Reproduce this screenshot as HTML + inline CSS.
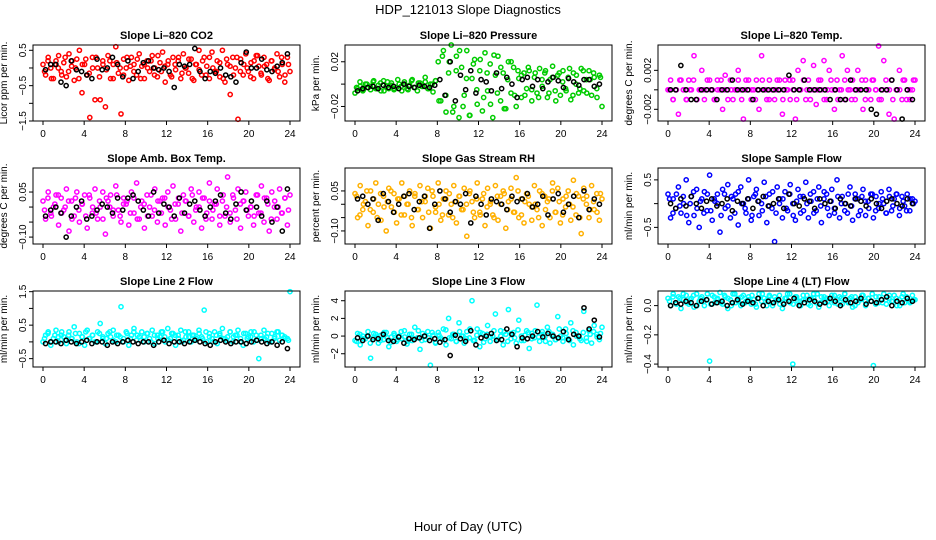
<!DOCTYPE html>
<html><head><meta charset="utf-8"><style>
html,body{margin:0;padding:0;background:#fff;}
svg{display:block;font-family:"Liberation Sans",sans-serif;}
</style></head><body>
<svg id="chart" width="936" height="540" viewBox="0 0 936 540" xmlns="http://www.w3.org/2000/svg">
<text x="468" y="14" text-anchor="middle" font-size="13">HDP_121013  Slope Diagnostics</text>
<text x="468" y="531" text-anchor="middle" font-size="13">Hour of Day (UTC)</text>
</svg>
<script>
const co2Color=[0.1,-0.2,0.3,0.0,-0.3,0.2,0.35,-0.1,0.15,-0.25,0.4,0.05,-0.35,0.25,0.5,-0.7,0.1,-0.2,-1.4,0.3,-0.9,0.0,-0.9,0.2,-1.1,0.35,-0.3,0.1,0.6,-0.15,-1.3,0.25,0.0,-0.35,0.3,0.1,-0.2,0.4,0.05,-0.3,0.2,-0.1,0.35,0.0,-0.25,0.15,0.45,-0.4,0.1,-0.2,0.3,-0.05,0.2,-0.3,0.4,0.0,-0.15,0.25,-0.35,0.1,0.5,-0.2,0.3,0.05,-0.3,0.45,-0.1,0.2,-0.25,0.5,-0.4,0.1,-0.75,0.3,0.0,-1.45,0.25,-0.2,0.4,-0.1,0.15,-0.3,0.35,0.05,-0.2,0.3,0.1,-0.35,0.2,-0.05,0.4,-0.25,0.1,-0.4,0.3,-0.1];
const co2ColorB=[-0.1,0.2,-0.3,0.1,0.0,-0.2,0.3,-0.1,0.2,0.0,-0.3,0.1,0.25,-0.15,0.0,0.3,-0.25,0.1,-0.05,0.2,-0.3,0.15,0.0,-0.2,0.3,0.05,-0.1,0.25,-0.3,0.1,0.0,0.2,-0.2,0.35,-0.1,0.05,0.2,-0.25,0.1,0.3,-0.15,0.0,0.25,-0.3,0.1,-0.05,0.2,-0.2,0.3,0.0,-0.1,0.15,-0.3,0.25,0.05,-0.2,0.3,-0.1,0.1,0.0,-0.25,0.2,0.35,-0.15,0.05,-0.3,0.2,0.0,-0.1,0.3,-0.2,0.1];
const co2Black=[-0.05,0.1,0.1,-0.4,-0.5,0.2,-0.05,-0.1,-0.2,-0.3,0.25,-0.05,0.0,0.3,0.1,-0.25,0.2,-0.3,-0.1,0.15,0.2,0.0,-0.05,0.0,-0.1,-0.55,0.1,0.05,0.1,0.55,-0.1,-0.3,-0.1,-0.15,0.0,-0.2,-0.25,-0.4,0.15,0.45,0.0,0.0,0.25,-0.05,-0.1,0.05,0.15,0.4];
const presColor=[-0.008,-0.004,-0.002,-0.006,0.0,-0.003,-0.005,0.002,-0.004,-0.001,-0.006,0.003,-0.002,-0.004,0.001,-0.005,-0.003,0.0,-0.006,0.002,-0.004,-0.001,0.004,-0.003,-0.006,0.001,-0.002,0.006,-0.004,0.0,-0.007,0.003,0.02,-0.015,0.03,-0.025,0.01,0.035,-0.02,0.025,-0.03,0.015,-0.01,0.03,-0.028,0.005,0.022,-0.018,0.012,-0.024,0.028,-0.006,0.018,-0.03,0.008,0.025,-0.015,0.01,-0.022,0.02,-0.008,0.015,-0.02,0.005,-0.012,0.01,-0.004,0.012,-0.015,0.006,-0.008,0.014,-0.002,0.01,-0.012,0.004,0.016,-0.006,0.008,-0.01,0.012,-0.004,0.006,-0.014,0.01,0.0,-0.008,0.014,-0.006,0.004,0.012,-0.01,0.006,-0.004,0.008,-0.02];
const presColorB=[-0.003,0.002,-0.005,0.0,-0.002,0.003,-0.004,0.001,-0.006,0.002,-0.001,-0.004,0.004,-0.002,0.0,-0.005,0.003,-0.003,0.001,-0.002,0.002,-0.004,0.0,0.003,-0.015,0.025,-0.01,0.02,-0.025,0.012,0.03,-0.02,0.005,-0.028,0.018,-0.005,0.022,-0.012,0.01,-0.018,0.026,-0.008,0.015,-0.022,0.004,0.02,-0.01,0.012,0.008,-0.01,0.015,-0.005,0.01,-0.012,0.004,0.012,-0.008,0.006,-0.015,0.01,0.002,-0.006,0.014,-0.01,0.008,-0.004,0.012,-0.008,0.004,0.01,-0.012,0.006];
const presBlack=[-0.006,-0.004,-0.003,-0.002,-0.004,-0.001,-0.003,-0.002,-0.004,0.0,-0.002,-0.003,-0.001,-0.002,-0.003,-0.001,0.004,-0.01,0.02,-0.015,0.008,-0.005,0.012,-0.008,0.004,0.002,-0.006,0.01,-0.004,0.006,0.0,-0.012,0.004,0.006,-0.002,0.004,-0.004,0.002,0.006,0.003,-0.003,0.005,0.002,-0.001,0.004,0.004,-0.002,0.0];
const tempColor=[0,0.001,-0.001,0,-0.0025,0.001,0,-0.001,0.001,0,0.0035,-0.001,0,0.002,-0.001,0,0.001,0,-0.001,0.001,0,-0.002,0.0015,0,0.001,-0.001,0,0.002,0,-0.003,0.001,0,-0.001,0,0.001,-0.002,0.0035,0,-0.001,0.001,0,-0.001,0.001,0,-0.0025,0.001,0,-0.001,0.001,-0.003,0.002,0,0.003,-0.001,0.001,0,0.0025,-0.0015,0.001,0,0.003,-0.001,0.002,0,-0.002,0.001,0,0.0035,-0.001,0.002,0,0.001,-0.001,0.002,0,-0.002,0.001,0,-0.001,0.001,0,0.0045,-0.001,0.003,0,-0.0025,0.001,-0.003,0,0.002,-0.001,0.001,0,-0.001,0,0.001];
const tempColorB=[0,-0.001,0,0.001,0,-0.001,0,0.001,-0.001,0,0,0.001,0,-0.001,0,0.001,0,-0.001,0,0,0.001,-0.001,0,0.001,0,-0.001,0,0.001,0,-0.001,0,0,0.001,-0.001,0,0.001,0,-0.001,0,0.001,0,-0.001,0,0,0.001,-0.001,0,0.001,0,-0.001,0,0.001,0,-0.001,0,0,0.001,-0.001,0,0.001,0,-0.001,0,0.001,0,-0.001,0,0,0.001,-0.001,0,0.001];
const tempBlack=[0,0,0.0025,0,-0.001,-0.001,0,0,0,-0.001,0,0,0.001,0,0,0,-0.001,0,0,0,0,0,0,0.0015,0,0,0.001,0,0,0,0,-0.001,0,-0.001,-0.001,0.001,0,0,0,-0.002,-0.0025,0,0,0.001,0,-0.003,0,-0.001];
const boxColor=[0.02,-0.04,0.05,-0.02,0.0,0.04,-0.06,0.03,-0.01,0.06,-0.08,0.02,-0.03,0.05,-0.05,0.01,0.04,-0.07,0.03,-0.02,0.06,-0.04,0.0,0.05,-0.09,0.02,0.04,-0.03,0.07,-0.01,-0.05,0.03,0.01,-0.06,0.05,-0.02,0.08,-0.04,0.02,-0.07,0.04,0.0,-0.03,0.06,-0.05,0.02,0.03,-0.06,0.05,-0.01,0.07,-0.04,0.01,-0.08,0.04,0.02,-0.03,0.06,-0.05,0.0,0.05,-0.07,0.03,-0.02,0.08,-0.04,0.01,0.06,-0.06,0.02,-0.03,0.1,-0.05,0.04,-0.01,0.06,-0.07,0.02,0.05,-0.03,0.0,-0.06,0.04,-0.02,0.07,-0.05,0.03,-0.08,0.05,0.0,-0.04,0.06,-0.02,0.03,-0.06,0.04];
const boxColorB=[-0.01,0.03,-0.03,0.01,0.04,-0.02,0.0,0.02,-0.04,0.03,-0.01,0.01,-0.03,0.04,0.0,-0.02,0.02,-0.04,0.03,0.0,-0.01,0.04,-0.03,0.01,0.02,-0.02,0.03,-0.04,0.0,0.01,-0.03,0.04,-0.01,0.02,-0.02,0.03,0.0,-0.04,0.01,0.03,-0.02,0.02,-0.03,0.04,-0.01,0.0,0.03,-0.04,0.02,-0.01,0.01,-0.03,0.04,0.0,-0.02,0.03,-0.04,0.01,0.02,-0.01,0.0,-0.03,0.04,-0.02,0.03,0.01,-0.04,0.02,0.0,-0.02,0.03,-0.01];
const boxBlack=[-0.03,-0.01,0.0,-0.02,-0.1,-0.03,0.0,0.02,-0.04,-0.03,-0.01,0.01,0.0,-0.02,0.03,-0.01,0.03,0.04,0.02,-0.01,-0.03,0.05,-0.02,0.01,0.0,-0.03,0.03,-0.02,0.01,0.02,-0.01,-0.03,0.0,0.02,0.04,-0.02,-0.04,0.01,0.05,-0.01,0.02,0.0,-0.03,0.02,-0.05,0.0,-0.08,0.06];
const rhColor=[0.04,-0.05,0.07,-0.02,0.01,-0.08,0.05,-0.03,0.08,0.0,-0.06,0.03,-0.1,0.06,-0.01,0.04,-0.07,0.02,0.08,-0.04,0.0,0.05,-0.08,0.03,-0.02,0.07,-0.05,0.01,0.06,-0.09,0.03,-0.03,0.08,-0.06,0.02,0.05,-0.04,0.0,0.07,-0.07,0.03,-0.02,0.06,-0.12,0.04,0.01,-0.05,0.08,-0.03,0.02,-0.08,0.06,0.0,-0.04,0.07,-0.06,0.03,0.05,-0.09,0.01,0.06,-0.03,0.1,-0.05,0.02,-0.07,0.04,0.0,-0.06,0.07,-0.02,0.05,-0.08,0.03,0.01,-0.05,0.08,-0.03,0.06,-0.07,0.02,-0.01,0.05,-0.06,0.09,-0.04,0.03,-0.11,0.06,0.0,-0.05,0.07,-0.02,0.04,-0.06,0.02];
const rhColorB=[0.03,-0.04,0.0,0.05,-0.02,0.02,-0.05,0.04,-0.01,0.01,0.05,-0.03,0.02,-0.04,0.03,0.0,-0.05,0.04,-0.02,0.01,0.03,-0.03,0.05,-0.01,0.0,-0.04,0.02,0.04,-0.05,0.01,0.03,-0.02,0.0,0.05,-0.03,0.02,-0.04,0.04,-0.01,0.01,-0.05,0.03,0.0,0.04,-0.02,0.02,-0.03,0.05,-0.04,0.01,0.03,-0.01,0.0,-0.05,0.04,-0.02,0.02,0.05,-0.03,0.01,-0.04,0.03,0.0,-0.01,0.04,-0.05,0.02,0.03,-0.02,0.01,-0.03,0.04];
const rhBlack=[0.02,0.03,0.0,0.02,-0.06,0.04,0.01,-0.03,0.0,0.03,0.04,-0.02,0.01,0.03,-0.09,0.0,0.05,0.02,-0.03,0.01,0.0,0.04,-0.07,0.03,0.0,-0.04,0.02,0.01,0.0,-0.02,0.03,0.01,0.02,0.04,-0.01,0.0,0.03,-0.04,0.02,0.04,-0.03,0.0,0.03,-0.05,0.05,-0.02,0.02,0.0];
const flowColor=[0.2,-0.3,0.1,-0.1,0.35,-0.2,0.0,0.5,-0.4,0.15,-0.25,0.3,-0.5,0.1,0.25,-0.15,0.6,-0.35,0.05,0.2,-0.6,0.3,-0.1,0.4,-0.3,0.1,0.2,-0.45,0.35,0.0,-0.2,0.5,-0.35,0.15,0.3,-0.25,0.0,0.45,-0.4,0.2,-0.1,-0.8,0.35,0.1,-0.3,0.25,-0.15,0.4,0.0,-0.35,0.3,-0.2,0.15,0.45,-0.3,0.05,0.25,-0.15,0.35,-0.4,0.1,0.2,-0.25,0.3,-0.1,0.5,-0.3,0.15,0.0,-0.2,0.35,-0.35,0.2,0.1,-0.15,0.3,-0.25,0.05,0.2,-0.3,0.15,-0.1,0.25,0.0,-0.2,0.3,-0.15,0.1,0.2,-0.25,0.15,-0.05,0.2,-0.15,0.1,0.05];
const flowColorB=[0.1,-0.2,0.2,-0.05,0.15,-0.25,0.0,0.25,-0.1,0.05,-0.2,0.2,-0.15,0.1,0.0,-0.25,0.2,-0.05,0.15,-0.2,0.25,0.0,-0.1,0.1,-0.25,0.2,0.05,-0.15,0.15,-0.05,0.25,-0.2,0.0,0.1,-0.1,0.2,-0.25,0.05,0.15,-0.15,0.0,0.2,-0.2,0.1,-0.05,0.25,-0.1,0.05,-0.2,0.15,0.0,-0.15,0.2,-0.05,0.1,-0.25,0.15,0.05,-0.1,0.2,-0.15,0.0,0.1,-0.2,0.15,-0.05,0.2,-0.1,0.05,-0.15,0.1,0.0];
const flowBlack=[0.0,-0.1,0.1,-0.05,0.15,0.0,-0.1,0.05,0.1,-0.05,0.0,0.1,-0.15,0.05,0.0,0.1,-0.1,0.05,0.15,-0.05,0.0,0.1,-0.1,0.2,0.0,-0.05,0.1,0.05,-0.1,0.1,0.0,0.05,-0.1,0.1,0.0,-0.05,0.1,0.05,-0.05,0.1,0.0,-0.1,0.05,0.1,0.0,-0.05,0.1,0.0];
const line2Color=[0.0,0.2,0.3,-0.1,0.1,0.35,0.0,0.2,0.15,-0.05,0.3,0.1,0.45,0.0,0.25,0.15,-0.1,0.35,0.1,0.2,0.0,0.3,0.55,0.1,-0.05,0.25,0.15,0.35,0.0,0.2,1.05,0.1,0.3,-0.1,0.2,0.4,0.05,0.15,0.3,0.0,0.25,0.1,0.35,-0.05,0.2,0.15,0.3,0.0,0.4,0.1,0.25,-0.1,0.2,0.35,0.05,0.15,0.3,0.0,0.2,0.1,0.35,0.15,0.95,0.0,0.25,0.1,0.3,-0.05,0.2,0.4,0.1,0.15,0.3,0.0,0.2,0.35,0.1,-0.1,0.25,0.15,0.3,0.0,0.2,-0.5,0.1,0.35,0.15,0.0,0.25,0.1,0.3,0.05,0.2,0.15,0.1,1.5];
const line2ColorB=[0.1,0.25,0.0,0.2,0.15,0.3,0.05,0.2,0.1,0.25,-0.05,0.15,0.3,0.1,0.2,0.0,0.25,0.15,0.1,0.3,0.05,0.2,0.15,0.0,0.25,0.1,0.3,0.2,0.05,0.15,0.25,0.0,0.2,0.1,0.3,0.15,0.05,0.25,0.2,0.1,0.0,0.3,0.15,0.2,0.05,0.25,0.1,0.3,0.15,0.0,0.2,0.25,0.1,0.05,0.3,0.15,0.2,0.0,0.25,0.1,0.15,0.3,0.05,0.2,0.1,0.25,0.0,0.15,0.3,0.2,0.1,0.05];
const line2Black=[-0.05,0.0,0.0,-0.05,0.05,0.0,-0.05,0.0,0.05,-0.05,0.0,0.0,-0.1,0.0,-0.05,0.0,0.05,0.0,-0.05,0.0,0.0,-0.1,0.0,0.05,-0.05,0.0,0.0,-0.05,0.0,0.05,0.0,-0.05,-0.1,0.0,0.05,0.0,-0.05,0.0,0.0,-0.05,0.0,0.05,0.0,-0.05,0.0,-0.1,0.0,-0.2];
const line3Color=[-0.5,0.3,-1.0,0.0,-0.3,0.5,-2.5,-0.2,0.2,-0.8,0.1,-0.4,0.4,-1.2,-0.1,0.3,-0.6,0.0,-0.3,0.6,-0.9,0.2,-0.5,1.0,-0.2,-1.5,0.3,-0.4,0.5,-3.3,0.1,-0.7,0.4,-0.2,0.8,-1.0,2.0,-0.3,0.2,-0.6,1.5,0.0,-0.8,0.5,-0.2,4.0,-0.5,0.8,-1.2,0.3,-0.3,1.2,-0.6,0.0,2.5,-0.4,0.6,-1.0,0.2,3.0,-0.3,0.4,-0.8,1.8,0.0,-0.5,0.6,-1.4,0.3,-0.2,3.5,-0.6,0.5,-0.1,1.0,-0.8,0.2,-0.4,2.2,0.0,-0.6,0.8,-0.3,1.5,-1.0,0.4,0.0,-0.5,2.8,-0.2,0.6,-0.8,1.2,0.2,-0.4,1.0];
const line3ColorB=[-0.6,0.2,-0.3,0.0,-0.8,0.3,-0.1,-0.5,0.4,-0.2,-0.7,0.1,-0.4,0.5,-0.1,-0.6,0.2,-0.3,0.6,-0.5,0.0,-0.2,0.4,-0.8,0.1,-0.4,0.7,-0.2,0.2,-0.6,0.5,0.0,-0.3,0.8,-0.5,0.1,0.4,-0.7,0.2,-0.1,0.6,-0.4,0.0,0.5,-0.6,0.3,-0.2,0.7,-0.5,0.1,0.4,-0.3,0.6,-0.1,0.2,-0.6,0.5,0.0,-0.4,0.8,-0.2,0.3,-0.5,0.6,0.0,-0.3,0.4,-0.6,0.2,0.5,-0.1,0.3];
const line3Black=[-0.2,-0.5,0.0,-0.4,-0.3,0.2,-0.5,-0.6,-0.1,-0.8,-0.3,-0.4,-0.2,0.0,-0.5,-0.3,-0.7,-0.4,-2.2,0.1,-0.3,-0.6,0.6,-1.0,-0.2,0.0,0.3,-0.5,-0.4,0.8,0.2,-1.2,-0.2,-0.3,0.0,0.5,-0.1,0.3,0.0,-0.2,0.5,-0.4,0.2,0.0,3.2,0.8,1.8,-0.1];
const line4Color=[0.05,0.0,0.08,0.02,0.06,-0.02,0.04,0.07,0.01,0.05,-0.01,0.08,0.03,0.06,0.0,0.04,-0.38,0.07,0.02,0.05,0.09,0.01,0.06,-0.02,0.04,0.08,0.02,0.05,0.0,0.07,0.03,0.06,0.01,0.04,-0.01,0.08,0.03,0.05,0.0,0.07,0.02,0.06,0.04,0.01,-0.02,0.05,0.08,0.02,-0.4,0.06,0.03,0.0,0.07,0.04,0.01,0.05,0.08,0.02,-0.01,0.06,0.03,0.05,0.0,0.07,0.02,0.04,0.06,0.01,0.08,0.03,0.05,-0.01,0.06,0.02,0.04,0.07,0.0,0.05,0.03,-0.41,0.06,0.02,0.04,0.08,0.01,0.05,0.03,0.07,0.0,0.04,0.06,0.02,0.05,0.03,0.07,0.04];
const line4ColorB=[0.03,0.06,0.01,0.05,0.08,0.02,0.04,0.07,0.0,0.05,0.03,0.08,0.01,0.06,0.04,0.02,0.07,0.05,0.0,0.08,0.03,0.06,0.02,0.04,0.07,0.01,0.05,0.08,0.03,0.06,0.0,0.04,0.07,0.02,0.05,0.08,0.01,0.06,0.03,0.04,0.07,0.0,0.05,0.08,0.02,0.06,0.03,0.04,0.07,0.01,0.05,0.08,0.02,0.06,0.0,0.04,0.07,0.03,0.05,0.08,0.01,0.06,0.02,0.04,0.07,0.03,0.05,0.0,0.08,0.06,0.02,0.04];
const line4Black=[0.0,0.02,0.01,0.03,0.02,0.0,0.03,0.04,0.01,0.02,0.03,0.0,0.02,0.04,0.01,0.03,0.02,0.05,0.0,0.03,0.02,0.04,0.01,0.03,0.05,0.0,0.02,0.04,0.03,0.01,0.02,0.05,0.03,0.0,0.04,0.02,0.03,0.05,0.01,0.03,0.02,0.04,0.06,0.0,0.03,0.02,0.05,0.03];
const xTicks=[0,4,8,12,16,20,24];
const panelTitles=["Slope Li\u2013820 CO2","Slope Li\u2013820 Pressure","Slope Li\u2013820 Temp.","Slope Amb. Box Temp.","Slope Gas Stream RH","Slope Sample Flow","Slope Line 2 Flow","Slope Line 3 Flow","Slope Line 4 (LT) Flow"];
const yTitles=["Licor ppm per min.","kPa per min.","degrees C per min.","degrees C per min.","percent per min.","ml/min per min.","ml/min per min.","ml/min per min.","ml/min per min."];
const yTickVals=[[0.5,0,-0.5,-1,-1.5],[0.02,0,-0.02],[0.002,0,-0.002],[0.05,0,-0.05,-0.1],[0.05,0,-0.05,-0.1],[0.5,0,-0.5],[1.5,1,0.5,0,-0.5],[4,2,0,-2],[0,-0.2,-0.4]];
const yTickLabels=[["0.5","","\u22120.5","","\u22121.5"],["0.02","","\u22120.02"],["0.002","","\u22120.002"],["0.05","","","\u22120.10"],["0.05","","","\u22120.10"],["0.5","","\u22120.5"],["1.5","","0.5","","\u22120.5"],["4","2","0","\u22122"],["0.0","\u22120.2","\u22120.4"]];
const yRanges=[[-1.5,0.65],[-0.033,0.035],[-0.0032,0.0046],[-0.123,0.13],[-0.149,0.136],[-0.85,0.75],[-0.75,1.52],[-3.5,5.1],[-0.42,0.1]];
const colorSeries=[co2Color,presColor,tempColor,boxColor,rhColor,flowColor,line2Color,line3Color,line4Color];
const colorSeriesB=[co2ColorB,presColorB,tempColorB,boxColorB,rhColorB,flowColorB,line2ColorB,line3ColorB,line4ColorB];
const blackSeries=[co2Black,presBlack,tempBlack,boxBlack,rhBlack,flowBlack,line2Black,line3Black,line4Black];
const colors=["#ff0000","#00cc00","#ff00ff","#ff00ff","#ffb000","#0000ff","#00ffff","#00ffff","#00ffff"];
const names=["co2","pressure","li820-temp","box-temp","rh","sample-flow","line2-flow","line3-flow","line4-flow"];
const NS="http://www.w3.org/2000/svg";
const svg=document.getElementById('chart');
const lefts=[33,345,658],tops=[45,168,291],W=267,H=76;
function mk(tag,attrs,parent){const e=document.createElementNS(NS,tag);for(const k in attrs)e.setAttribute(k,attrs[k]);parent.appendChild(e);return e;}
for(let p=0;p<9;p++){
  const L=lefts[p%3],T=tops[Math.floor(p/3)];
  const g=mk('g',{},svg);
  
  
  const xs=v=>L+10+v*(W-20)/24;
  const [y0,y1]=yRanges[p];
  const ys=v=>T+H-(v-y0)/(y1-y0)*H;
  const t=mk('text',{x:L+W/2,y:T-6,'text-anchor':'middle','font-size':'11','font-weight':'bold'},g);
  t.textContent=panelTitles[p];
  
  
  const yt=mk('text',{transform:`translate(${L-26},${T+H/2}) rotate(-90)`,'text-anchor':'middle','font-size':'10'},g);
  yt.textContent=yTitles[p];
  
  
  const pts=mk('g',{fill:'none','stroke-width':'1.5'},g);
  
  
  const cs=colorSeries[p];
  cs.forEach((v,i)=>{const c=mk('circle',{cx:xs(i*24/(cs.length-1)),cy:ys(v),r:2.1,stroke:colors[p]},pts);
    
    });
  const cb=colorSeriesB[p];
  cb.forEach((v,i)=>{const c=mk('circle',{cx:xs(0.15+i*23.7/(cb.length-1)),cy:ys(v),r:2.1,stroke:colors[p]},pts);
    
    });
  const bs=blackSeries[p];
  bs.forEach((v,i)=>{const c=mk('circle',{cx:xs(0.25+i*23.5/(bs.length-1)),cy:ys(v),r:2.1,stroke:'#000'},pts);
    
    });
  const box=mk('rect',{x:L,y:T,width:W,height:H,fill:'none',stroke:'#000','stroke-width':'1'},g);
  
  
  const xa=mk('g',{stroke:'#000'},g);
  
  
  mk('line',{x1:xs(0),x2:xs(24),y1:T+H,y2:T+H},xa);
  xTicks.forEach(v=>{mk('line',{x1:xs(v),x2:xs(v),y1:T+H,y2:T+H+4},xa);
    const l=mk('text',{x:xs(v),y:T+H+16,'text-anchor':'middle','font-size':'10',stroke:'none'},xa);l.textContent=v;
    
    });
  const ya=mk('g',{stroke:'#000'},g);
  
  
  const tv=yTickVals[p];
  mk('line',{x1:L,x2:L,y1:ys(Math.max(...tv)),y2:ys(Math.min(...tv))},ya);
  tv.forEach((v,i)=>{mk('line',{x1:L-4,x2:L,y1:ys(v),y2:ys(v)},ya);
    const lab=yTickLabels[p][i];
    if(lab){const l=mk('text',{transform:`translate(${L-7},${ys(v)}) rotate(-90)`,'text-anchor':'middle','font-size':'10',stroke:'none'},ya);l.textContent=lab;
      
      }});
}
</script>
</body></html>
